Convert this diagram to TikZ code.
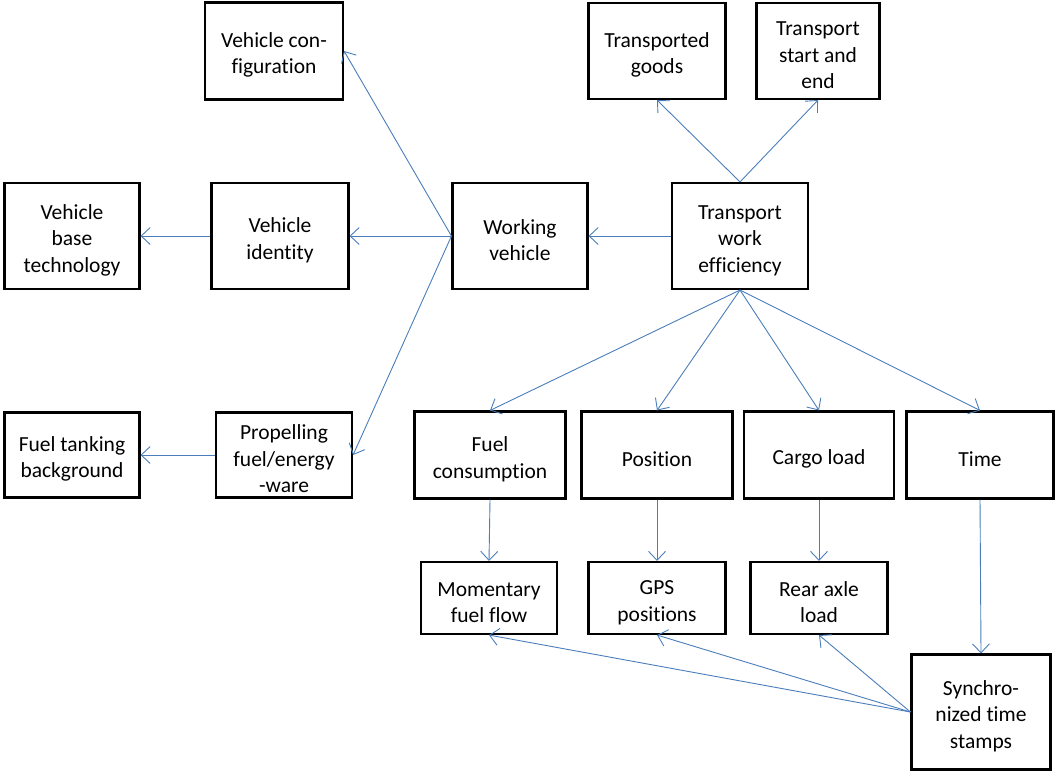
\documentclass[tikz,border=0pt]{standalone}
\usepackage{fontspec}
\setmainfont{Carlito}[Ligatures={NoCommon,NoContextual}, Contextuals=NoAlternate]
\usepackage{tikz}
\usetikzlibrary{arrows.meta}
\usepackage{xcolor}
\definecolor{linkblue}{RGB}{74,126,187}
\newcommand{\boxstrut}{\rule{0pt}{23pt}} % first line a bit taller, the slide sets its text lower
\tikzset{block/.style={
          draw, line width=2.1pt, align=center, inner sep=2pt,
          font=\fontsize{21.5}{26.5}\selectfont % calibri-ish size, as in the slide
          },
        link/.style={
          draw=linkblue, line width=0.9pt,
          -{Straight Barb[length=9pt,width=17pt,line width=0.9pt]}
          },
}

\begin{document}
\begin{tikzpicture}[x=1pt, y=-1pt]
      % \draw[help lines, dashed] grid (1056, 772);
      \useasboundingbox (0,0) rectangle (1056,772);

      % VEHICLE SIDE
      \node[block, minimum width=138pt, minimum height=97pt] (config) at (274,51) {\boxstrut Vehicle con-\\figuration};
      \node[block, minimum width=135pt, minimum height=106pt] (basetech) at (72,236) {\boxstrut Vehicle\\base\\technology};
      \node[block, minimum width=137pt, minimum height=106pt] (identity) at (280,236) {\boxstrut Vehicle\\identity};
      \node[block, minimum width=135pt, minimum height=106pt] (working) at (520,236) {\boxstrut Working\\vehicle};
      \node[block, minimum width=135pt, minimum height=85pt] (tanking) at (72,455) {\boxstrut Fuel tanking\\background};
      \node[block, minimum width=136pt, minimum height=85pt] (propel) at (284,455) {\boxstrut Propelling\\fuel/energy\\-ware};

      % TRANSPORT SIDE
      \node[block, minimum width=137pt, minimum height=96pt] (goods) at (657,51) {\boxstrut Transported\\goods};
      \node[block, minimum width=123pt, minimum height=96pt] (startend) at (818,51) {\boxstrut Transport\\start and\\end};
      \node[block, minimum width=136pt, minimum height=106pt] (twe) at (740,236) {\boxstrut Transport\\work\\efficiency};

      % MEASURED QUANTITIES
      \node[block, minimum width=151pt, minimum height=87pt] (fuelcons) at (490,455) {\boxstrut Fuel\\consumption};
      \node[block, minimum width=151pt, minimum height=87pt] (position) at (657,455) {\boxstrut Position};
      \node[block, minimum width=150pt, minimum height=87pt] (cargo) at (819,455) {\boxstrut Cargo load};
      \node[block, minimum width=147pt, minimum height=87pt] (time) at (980,455) {\boxstrut Time};

      % SIGNALS
      \node[block, minimum width=136pt, minimum height=72pt] (fuelflow) at (489,598) {\boxstrut Momentary\\fuel flow};
      \node[block, minimum width=137pt, minimum height=72pt] (gps) at (657,598) {\boxstrut GPS\\positions};
      \node[block, minimum width=137pt, minimum height=72pt] (axle) at (819,598) {\boxstrut Rear axle\\load};
      \node[block, minimum width=139pt, minimum height=115pt] (stamps) at (981,712) {\boxstrut Synchro-\\nized time\\stamps};

      % LINKS
      \draw[link] (working.west) -- (config.east);
      \draw[link] (working.west) -- (identity.east);
      \draw[link] (working.west) -- (propel.east);
      \draw[link] (identity.west) -- (basetech.east);
      \draw[link] (propel.west) -- (tanking.east);

      \draw[link] (twe.west) -- (working.east);
      \draw[link] (twe.north) -- (goods.south);
      \draw[link] (twe.north) -- (startend.south);
      \draw[link] (twe.south) -- (fuelcons.north);
      \draw[link] (twe.south) -- (position.north);
      \draw[link] (twe.south) -- (cargo.north);
      \draw[link] (twe.south) -- (time.north);

      \draw[link] (fuelcons.south) -- (fuelflow.north);
      \draw[link] (position.south) -- (gps.north);
      \draw[link] (cargo.south) -- (axle.north);
      \draw[link] (time.south) -- (stamps.north);

      \draw[link] (stamps.west) -- (fuelflow.south);
      \draw[link] (stamps.west) -- (gps.south);
      \draw[link] (stamps.west) -- (axle.south);

\end{tikzpicture}
\end{document}
